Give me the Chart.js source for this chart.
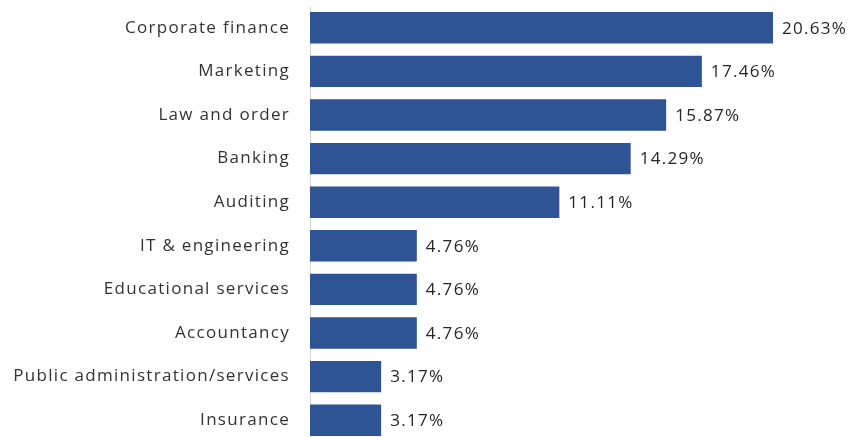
<!DOCTYPE html>
<html>
<head>
<meta charset="utf-8">
<script src="https://cdn.jsdelivr.net/npm/chart.js@4/dist/chart.umd.min.js"></script>
<style>
html,body{margin:0;padding:0;background:#fff;overflow:hidden;}
#wrap{width:852px;height:442px;}
</style>
</head>
<body>
<div id="wrap"><canvas id="sectorChart"></canvas></div>
<script>
// sectors and their share of responses (%)
const sectors = [
"Corporate finance",
"Marketing",
"Law and order",
"Banking",
"Auditing",
"IT & engineering",
"Educational services",
"Accountancy",
"Public administration/services",
"Insurance"
];
const shares = [20.63, 17.46, 15.87, 14.29, 11.11, 4.76, 4.76, 4.76, 3.17, 3.17];

const FONT = "'Open Sans', 'DejaVu Sans', sans-serif";
const SPACING = "1.3px";

// wider tracking for all canvas text
const tracking = {
id:"tracking",
beforeLayout(chart){ chart.ctx.letterSpacing = SPACING; },
beforeDraw(chart){ chart.ctx.letterSpacing = SPACING; }
};

// writes the percentage just past the end of each bar
const valueLabels = {
id:"valueLabels",
afterDatasetsDraw(chart){
const ctx = chart.ctx;
const meta = chart.getDatasetMeta(0);
ctx.save();
ctx.letterSpacing = SPACING;
ctx.font = "17px " + FONT;
ctx.fillStyle = "#262626";
ctx.textAlign = "left";
ctx.textBaseline = "middle";
meta.data.forEach((bar,i)=>{
ctx.fillText(shares[i].toFixed(2) + "%", bar.x + 9, bar.y + 1);
});
ctx.restore();
}
};

new Chart(document.getElementById("sectorChart"),{
type:"bar",
data:{
labels:sectors,
datasets:[{
data:shares,
backgroundColor:"#2F5496",
barPercentage:0.72,
categoryPercentage:1
}]
},
options:{
indexAxis:"y",
responsive:true,
maintainAspectRatio:false,
animation:false,
layout:{padding:{top:6,right:0,bottom:0,left:0}},
plugins:{legend:{display:false},tooltip:{enabled:false}},
scales:{
x:{
display:false,
min:0,
max:24.15
},
y:{
afterFit(scale){
scale.width = 310;
scale.paddingTop = 0;
scale.paddingBottom = 0;
},
grid:{display:false,drawTicks:false},
border:{display:true,color:"#d9d9d9",width:1},
ticks:{
color:"#333333",
padding:20,
font:{family:FONT,size:17}
}
}
}
},
plugins:[tracking,valueLabels]
});
</script>
</body>
</html>
